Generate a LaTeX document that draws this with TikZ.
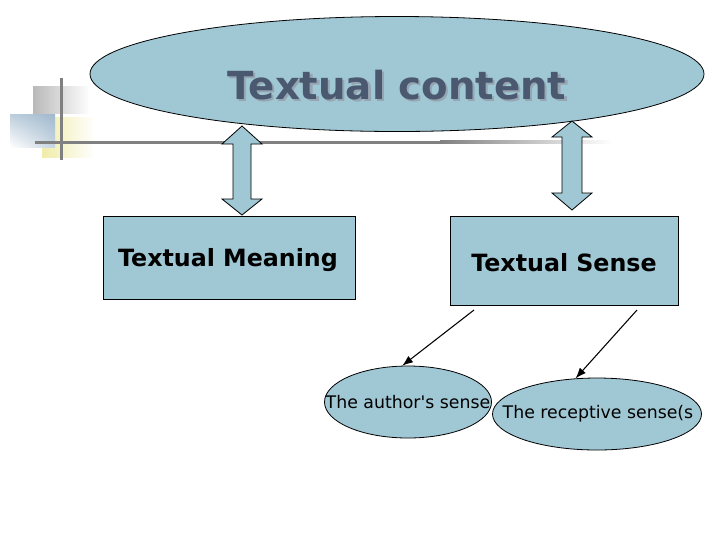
\documentclass[tikz,border=0pt]{standalone}
\usepackage{fontspec}
\setmainfont{DejaVu Sans}
\usetikzlibrary{arrows.meta,shapes.geometric,shadings}
\definecolor{boxblue}{RGB}{160,199,212}
\definecolor{titlecol}{RGB}{74,88,112}
\definecolor{shadowcol}{RGB}{150,165,178}
\definecolor{decogray}{RGB}{185,185,185}
\definecolor{decoblue}{RGB}{160,185,205}
\definecolor{decoyellow}{RGB}{240,236,170}
\definecolor{linegray}{RGB}{128,128,128}
\newcommand{\shadowtext}[1]{\rlap{\textcolor{shadowcol}{\hspace{1.6pt}\raisebox{-1.6pt}{#1}}}#1}
\tikzset{
  blobfill/.style={fill=boxblue,draw=black,line width=0.6pt},
  boxnode/.style={blobfill,rectangle,inner sep=0pt},
  ovalnode/.style={blobfill,ellipse,inner sep=0pt},
  dblarrow/.style={fill=boxblue,draw=black,line width=0.6pt},
  thinarrow/.style={draw=black,line width=0.8pt,-{Latex[length=8pt,width=6pt]}},
  boxtext/.style={font=\bfseries\fontsize{17.8}{21}\selectfont,text=black},
  smalltext/.style={font=\fontsize{13}{16}\selectfont,text=black}
}
\begin{document}
\begin{tikzpicture}[x=0.75pt,y=-0.75pt]
\useasboundingbox (0,0) rectangle (720,540);
\fill[white] (0,0) rectangle (720,540);
% decoration
\shade[left color=decogray,right color=white] (33,86) rectangle (90,113);
\shade[left color=decoyellow,right color=white] (42,117) rectangle (95,157);
\shade[upper right=decoblue,upper left=decoblue!70,lower left=white,lower right=decoblue!60] (10,114) rectangle (55,147);
\fill[linegray] (59.5,78) rectangle (62.5,160);
\fill[linegray] (35,140.5) rectangle (440,143.5);
\shade[left color=linegray,right color=white] (440,140.5) rectangle (612,143.5);
% title ellipse
\node[ovalnode,minimum width=460.5pt,minimum height=86.25pt] (tc) at (397,74) {};
\node[font=\bfseries\fontsize{29}{34}\selectfont,text=titlecol] (tct) at (397,86) {\shadowtext{Textual content}};
% boxes
\node[boxnode,minimum width=189pt,minimum height=62.25pt] (tm) at (229,258) {};
\node[boxtext] at (228,260) {Textual Meaning};
\node[boxnode,minimum width=171pt,minimum height=66.75pt] (ts) at (564,261) {};
\node[boxtext] at (564,263) {Textual Sense};
% double arrows
\draw[dblarrow] (242,126) -- (262,144) -- (251,144) -- (251,199) -- (262,199) -- (242,215)
  -- (222,199) -- (233,199) -- (233,144) -- (222,144) -- cycle;
\draw[dblarrow] (572,121) -- (592,137) -- (582,137) -- (582,193) -- (592,193) -- (572,210)
  -- (552,193) -- (562,193) -- (562,137) -- (552,137) -- cycle;
% small ellipses
\node[ovalnode,minimum width=125.25pt,minimum height=54pt] (as) at (408,402) {};
\node[smalltext] at (408,402) {The author\textquotesingle s sense};
\node[ovalnode,minimum width=156.75pt,minimum height=54pt] (rs) at (597,414) {};
\node[smalltext] at (598,414) {The receptive sense(s};
% thin arrows
\coordinate (a1) at (474,310);
\coordinate (a2) at (637,310);
\draw[thinarrow] (a1) -- (as.99);
\draw[thinarrow] (a2) -- (rs.121);
\end{tikzpicture}
\end{document}
